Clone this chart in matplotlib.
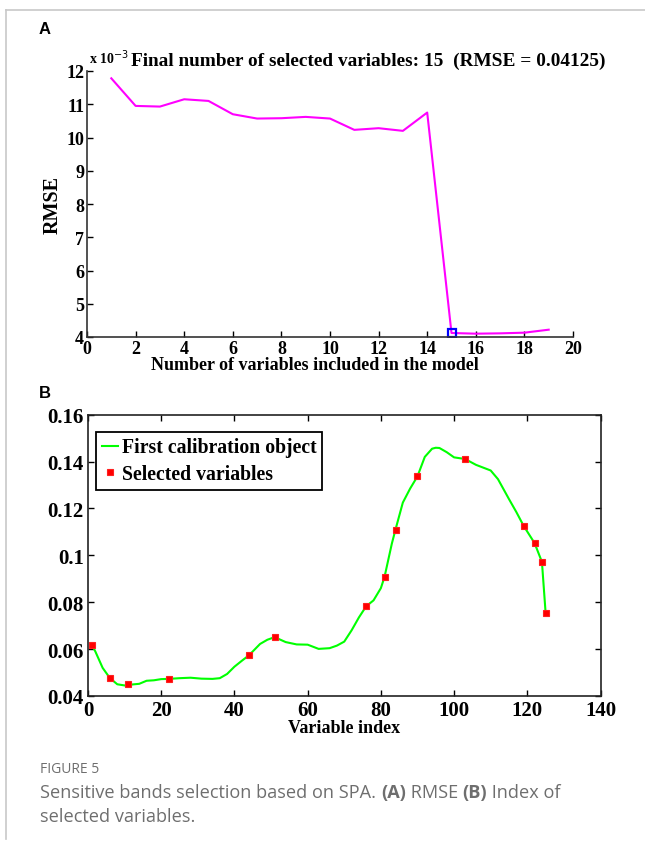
import matplotlib
matplotlib.use("Agg")
import matplotlib.pyplot as plt
from matplotlib.lines import Line2D

# panel A: RMSE vs number of variables (x 10^-3)
n_vars = [1, 2, 3, 4, 5, 6, 7, 8, 9, 10, 11, 12, 13, 14, 15, 16, 17, 18, 19]
rmse = [11.78, 10.95, 10.93, 11.15, 11.10, 10.70, 10.57, 10.58, 10.62, 10.57,
        10.23, 10.28, 10.20, 10.75, 4.12, 4.10, 4.11, 4.13, 4.22]
best_n = 15
best_rmse = 4.12

# panel B: first calibration object + selected variables
spec_idx = [1, 2, 4, 6, 8, 10, 12, 14, 16, 18, 20, 22, 25, 28, 31, 34, 36, 38, 40, 42,
            44, 47, 49, 51, 54, 57, 60, 63, 66, 68, 70, 72, 74, 76, 78, 80, 81, 83, 84,
            86, 88, 90, 92, 94, 95, 96, 98, 100, 103, 106, 110, 112, 115, 117, 119,
            122, 124, 125]
spec_val = [0.0620, 0.0590, 0.0520, 0.0476, 0.0450, 0.0445, 0.0449, 0.0452, 0.0465,
            0.0467, 0.0472, 0.0473, 0.0476, 0.0478, 0.0474, 0.0473, 0.0476, 0.0494,
            0.0525, 0.0550, 0.0574, 0.0622, 0.0640, 0.0651, 0.0630, 0.0620, 0.0619,
            0.0601, 0.0604, 0.0615, 0.0632, 0.0680, 0.0735, 0.0783, 0.0808, 0.0860,
            0.0908, 0.1050, 0.1110, 0.1225, 0.1285, 0.1337, 0.1420, 0.1455, 0.1459,
            0.1458, 0.1440, 0.1418, 0.1411, 0.1386, 0.1362, 0.1325, 0.1240, 0.1185,
            0.1126, 0.1052, 0.0972, 0.0756]
sel_idx = [1, 6, 11, 22, 44, 51, 76, 81, 84, 90, 103, 119, 122, 124, 125]
sel_val = [0.0619, 0.0476, 0.0453, 0.0473, 0.0574, 0.0651, 0.0783, 0.0908, 0.1110,
           0.1337, 0.1411, 0.1126, 0.1052, 0.0972, 0.0756]

serif = ['Liberation Serif', 'DejaVu Serif']
W, H = 645, 845
fig = plt.figure(figsize=(W / 100, H / 100), dpi=100)

def fx(px):
    return px / W

def fy(py):
    return 1 - py / H

# outer frame lines (page border)
fig.add_artist(Line2D([fx(6), 1], [fy(11), fy(11)], color='#c8c8c8', lw=1.2))
fig.add_artist(Line2D([fx(6), fx(6)], [fy(11), fy(840)], color='#c8c8c8', lw=1.2))

# ---------- panel A ----------
axA = fig.add_axes([fx(87), fy(338), fx(573) - fx(87), fy(72) - fy(338)])
axA.plot(n_vars, rmse, color='#ff00ff', lw=1.5)
axA.plot([best_n], [best_rmse], marker='s', ms=6, mfc='none', mec='#0000ff', mew=1.6)
axA.set_xlim(0, 20)
axA.set_ylim(4, 12)
axA.set_xticks(range(0, 21, 2))
axA.set_yticks(range(4, 13))
for s in ['top', 'right']:
    axA.spines[s].set_visible(False)
for s in ['left', 'bottom']:
    axA.spines[s].set_linewidth(1.2)
    axA.spines[s].set_color('#333333')
axA.tick_params(direction='in', length=4, width=1, labelsize=13)
axA.tick_params(axis='x', pad=2)
axA.tick_params(axis='y', pad=2)
for lab in axA.get_xticklabels() + axA.get_yticklabels():
    lab.set_family(serif)
    lab.set_weight('bold')
axA.set_ylabel('RMSE', family=serif, weight='bold', fontsize=14.5)
axA.yaxis.set_label_coords(-0.05, 0.5)
axA.set_xlabel('Number of variables included in the model', family=serif,
               weight='bold', fontsize=13)
axA.xaxis.set_label_coords(0.469, -0.07)

fig.text(fx(89), fy(64), r'x 10$^{-3}$', family=serif, weight='bold', fontsize=10,
         ha='left', va='baseline')
fig.text(fx(131), fy(66), 'Final number of selected variables: 15  (RMSE = 0.04125)',
         family=serif, weight='bold', fontsize=13.9, ha='left', va='baseline')
fig.text(fx(39), fy(34), 'A', family=['Liberation Sans', 'DejaVu Sans'],
         weight='bold', fontsize=12, ha='left', va='baseline')

# ---------- panel B ----------
axB = fig.add_axes([fx(88), fy(697), fx(600.5) - fx(88), fy(415.7) - fy(697)])
axB.plot(spec_idx, spec_val, color='#00ff00', lw=1.5, label='First calibration object')
axB.plot(sel_idx, sel_val, ls='none', marker='s', ms=4.2, mfc='#ff0000', mec='#ff2020',
         mew=0.8, label='Selected variables')
axB.set_xlim(0, 140)
axB.set_ylim(0.04, 0.16)
axB.set_xticks(range(0, 141, 20))
axB.set_yticks([0.04, 0.06, 0.08, 0.10, 0.12, 0.14, 0.16])
axB.set_yticklabels(['0.04', '0.06', '0.08', '0.1', '0.12', '0.14', '0.16'])
for s in axB.spines.values():
    s.set_linewidth(1.2)
    s.set_color('#222222')
axB.tick_params(direction='in', length=4, width=1, labelsize=15,
                top=True, right=True)
axB.tick_params(axis='x', pad=3)
axB.tick_params(axis='y', pad=3)
for lab in axB.get_xticklabels() + axB.get_yticklabels():
    lab.set_family(serif)
    lab.set_weight('bold')
axB.set_xlabel('Variable index', family=serif, weight='bold', fontsize=13)
axB.xaxis.set_label_coords(0.5, -0.08)
leg = axB.legend(loc='upper left', bbox_to_anchor=(0.0156, 0.94), borderaxespad=0,
                 prop={'family': serif, 'weight': 'bold', 'size': 14.2},
                 handlelength=0.8, handletextpad=0.2, borderpad=0.3,
                 labelspacing=0.35, fancybox=False, framealpha=1)
leg.get_frame().set_edgecolor('black')
leg.get_frame().set_linewidth(1.3)
fig.text(fx(39), fy(398), 'B', family=['Liberation Sans', 'DejaVu Sans'],
         weight='bold', fontsize=12, ha='left', va='baseline')

# ---------- caption ----------
cap = ['Open Sans', 'DejaVu Sans']
gray = '#6e6e6e'
fig.text(fx(40), fy(773), 'FIGURE 5', family=cap, fontsize=10, color=gray,
         ha='left', va='baseline')

renderer = fig.canvas.get_renderer()

def runs(x0, y0, parts):
    x = x0
    for txt, bold in parts:
        t = fig.text(fx(x), fy(y0), txt, family=cap, fontsize=13.1, color=gray,
                     weight='bold' if bold else 'normal', ha='left', va='baseline')
        bb = t.get_window_extent(renderer)
        x += bb.width

runs(40, 798, [('Sensitive bands selection based on SPA. ', False), ('(A)', True),
               (' RMSE ', False), ('(B)', True), (' Index of', False)])
runs(40, 822, [('selected variables.', False)])

fig.savefig('out.png', dpi=100)
